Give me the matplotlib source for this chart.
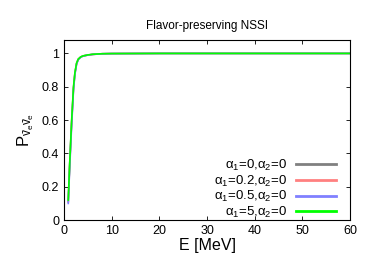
#! /usr/bin/env python3
# coding=utf-8
"""survival probability for flavor-preserving NSSI"""

import matplotlib
matplotlib.use('Agg')
import numpy as np
import matplotlib.pyplot as plt

plt.rcParams['font.family'] = ['Liberation Sans', 'DejaVu Sans']
plt.rcParams['mathtext.fontset'] = 'custom'
plt.rcParams['mathtext.rm'] = 'Liberation Sans'
plt.rcParams['mathtext.it'] = 'Liberation Sans'

# energies in MeV
energy = [0.9, 1.2, 1.6, 2.0, 2.3, 2.65, 3.0, 3.5, 4.0, 5.0, 6.0, 8.0, 10, 20, 30, 40, 50, 60]
p_a0 = [0.11, 0.33, 0.58, 0.79, 0.88, 0.94, 0.965, 0.978, 0.985, 0.990, 0.994, 0.998, 0.999, 1, 1, 1, 1, 1]
p_a02 = [0.11, 0.33, 0.58, 0.79, 0.88, 0.94, 0.965, 0.978, 0.985, 0.990, 0.994, 0.998, 0.999, 1, 1, 1, 1, 1]
p_a05 = [0.10, 0.31, 0.56, 0.78, 0.875, 0.935, 0.962, 0.977, 0.984, 0.990, 0.994, 0.998, 0.999, 1, 1, 1, 1, 1]
p_a5 = [0.12, 0.34, 0.59, 0.80, 0.885, 0.942, 0.966, 0.979, 0.985, 0.991, 0.995, 0.998, 0.999, 1, 1, 1, 1, 1]

labels = [r'$\mathrm{\alpha}_1$=0,$\mathrm{\alpha}_2$=0', r'$\mathrm{\alpha}_1$=0.2,$\mathrm{\alpha}_2$=0',
          r'$\mathrm{\alpha}_1$=0.5,$\mathrm{\alpha}_2$=0', r'$\mathrm{\alpha}_1$=5,$\mathrm{\alpha}_2$=0']
colors = ['#808080', '#ff8080', '#8080ff', '#00ff00']

fig, ax = plt.subplots(1, figsize=(3.74, 2.62), dpi=100)
for p, lab, col in zip([p_a0, p_a02, p_a05, p_a5], labels, colors):
    ax.plot(energy, p, '-', color=col, linewidth=1.2, label=lab)

ax.set_xlim([0, 60])
ax.set_ylim([0, 1.08])
ax.set_xticks(np.arange(0, 61, 10))
ax.set_yticks([0, 0.2, 0.4, 0.6, 0.8, 1])
ax.set_yticklabels(['0', '0.2', '0.4', '0.6', '0.8', '1'])
ax.tick_params(axis='both', which='major', direction='in', right=True, top=True,
               labelsize=9, length=3, width=0.6)
for s in ax.spines.values():
    s.set_linewidth(0.8)
ax.set_xlabel('E [MeV]', fontsize=11.5, labelpad=1)
ax.set_ylabel(r'$\mathrm{P}_{\bar{\mathrm{v}}_\mathrm{e}\bar{\mathrm{v}}_\mathrm{e}}$', fontsize=12, labelpad=4)
ax.set_title('Flavor-preserving NSSI', fontsize=8.5, pad=8)

leg = ax.legend(loc='lower right', bbox_to_anchor=(0.95, 0.0), frameon=False,
                markerfirst=False, fontsize=9.5, handlelength=3.0, labelspacing=0.05,
                borderaxespad=0.0, borderpad=0.0, handletextpad=0.7)
for t in leg.get_texts():
    t.set_ha('right')
for ln in leg.get_lines():
    ln.set_linewidth(2)

fig.subplots_adjust(left=0.171, right=0.936, top=0.847, bottom=0.16)
fig.savefig('out.png', dpi=100)
